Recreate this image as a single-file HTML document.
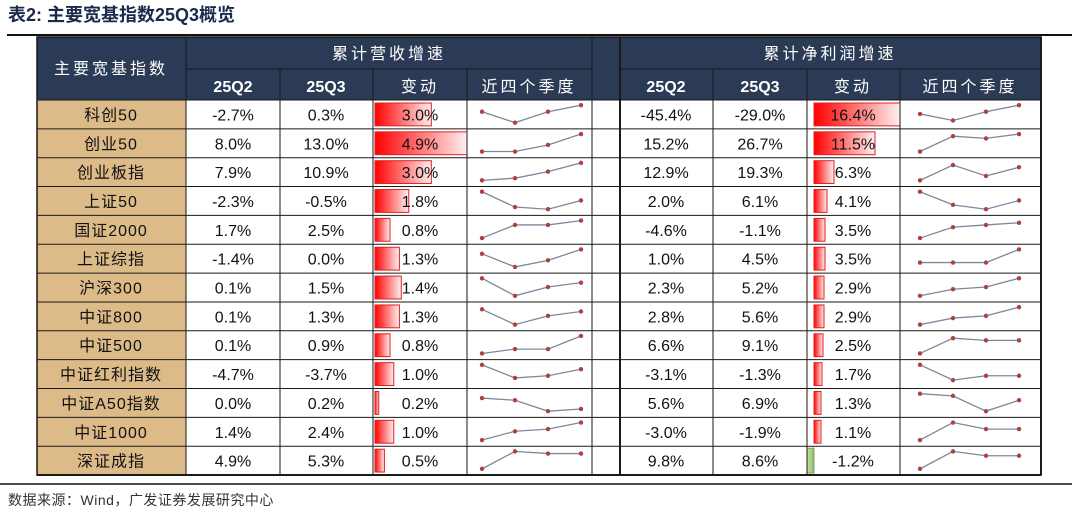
<!DOCTYPE html>
<html><head><meta charset="utf-8"><style>
body{margin:0;background:#fff;width:1080px;height:519px;overflow:hidden}
svg{display:block}
</style></head><body>
<svg id="s" width="1080" height="519" xmlns="http://www.w3.org/2000/svg" font-family="'Liberation Sans','Noto Sans CJK SC',sans-serif">
<defs>
<linearGradient id="rg" x1="0" x2="1" y1="0" y2="0"><stop offset="0" stop-color="#ff0000"/><stop offset="1" stop-color="#fff0f0"/></linearGradient>
<linearGradient id="gg" x1="0" x2="1"><stop offset="0" stop-color="#c8e0a8"/><stop offset="1" stop-color="#8cc060"/></linearGradient>
</defs>
</svg>
<script>
const s=document.getElementById('s');let h='';
h+=`<text x="8" y="21" font-size="18" font-weight="bold" fill="#1a2a4a">表2:  主要宽基指数25Q3概览</text>`;
h+=`<line x1="7" y1="35" x2="1072" y2="35" stroke="#111" stroke-width="2"/>`;
const T=37,HM=69,HB=100,RH=28.85;
const L=[37,186,280,373,467,592,620,713,807,900,1041];
h+=`<rect x="37" y="${T}" width="${1041-37}" height="${HB-T}" fill="#2b3a55"/>`;
h+=`<g stroke="#1a1a1a" stroke-width="1">`;
h+=`<line x1="186" y1="${HM}" x2="592" y2="${HM}"/><line x1="620" y1="${HM}" x2="1041" y2="${HM}"/>`;
[186,592,620].forEach(x=>h+=`<line x1="${x}" y1="${T}" x2="${x}" y2="${HB}"/>`);
[280,373,467,713,807,900].forEach(x=>h+=`<line x1="${x}" y1="${HM}" x2="${x}" y2="${HB}"/>`);
h+=`</g>`;
const wt=(x,y,t,sz,b)=>h+=`<text x="${x}" y="${y}" font-size="${sz}" fill="#fff" text-anchor="middle" ${b?'font-weight="bold"':''} letter-spacing="${b?0:3}">${t}</text>`;
wt(111,74,'主要宽基指数',16);wt(389,59,'累计营收增速',16);wt(830,59,'累计净利润增速',16);
wt(233,92,'25Q2',16,1);wt(326,92,'25Q3',16,1);wt(420,92,'变动',16);wt(529,92,'近四个季度',16);
wt(666,92,'25Q2',16,1);wt(760,92,'25Q3',16,1);wt(853,92,'变动',16);wt(970,92,'近四个季度',16);
const names=['科创50','创业50','创业板指','上证50','国证2000','上证综指','沪深300','中证800','中证500','中证红利指数','中证A50指数','中证1000','深证成指'];
const d=[
['-2.7%','0.3%',3.0,'-45.4%','-29.0%',16.4],['8.0%','13.0%',4.9,'15.2%','26.7%',11.5],['7.9%','10.9%',3.0,'12.9%','19.3%',6.3],
['-2.3%','-0.5%',1.8,'2.0%','6.1%',4.1],['1.7%','2.5%',0.8,'-4.6%','-1.1%',3.5],['-1.4%','0.0%',1.3,'1.0%','4.5%',3.5],
['0.1%','1.5%',1.4,'2.3%','5.2%',2.9],['0.1%','1.3%',1.3,'2.8%','5.6%',2.9],['0.1%','0.9%',0.8,'6.6%','9.1%',2.5],
['-4.7%','-3.7%',1.0,'-3.1%','-1.3%',1.7],['0.0%','0.2%',0.2,'5.6%','6.9%',1.3],['1.4%','2.4%',1.0,'-3.0%','-1.9%',1.1],['4.9%','5.3%',0.5,'9.8%','8.6%',-1.2]];
const rw=[86,61,20,13,11,11,10,10,9,8,7,7,0];
const sl=[[.4,.9,.4,.1],[.9,.9,.6,.1],[.9,.8,.5,.1],[.1,.8,.9,.5],[.9,.3,.3,.1],[.3,.9,.6,.1],[.1,.9,.5,.3],[.2,.9,.5,.3],[.9,.7,.7,.1],[.1,.7,.6,.3],[.3,.4,.9,.8],[.9,.5,.4,.1],[.9,.1,.2,.2]];
const sr=[[.5,.8,.4,.1],[.9,.2,.3,.1],[.9,.2,.7,.3],[.1,.7,.9,.5],[.9,.4,.3,.2],[.7,.7,.7,.1],[.9,.6,.5,.1],[.9,.6,.5,.1],[.9,.2,.3,.3],[.1,.8,.6,.6],[.1,.2,.9,.4],[.9,.1,.4,.4],[.9,.1,.3,.3]];
const tx=(x,y,t)=>h+=`<text x="${x}" y="${y}" font-size="16" fill="#111" text-anchor="middle">${t}</text>`;
const spark=(x0,y0,v)=>{const xs=[0,1,2,3].map(i=>x0+i*33);const ys=v.map(a=>y0+3+a*(RH-7));
h+=`<polyline points="${xs.map((x,i)=>x+','+ys[i]).join(' ')}" fill="none" stroke="#7d889c" stroke-width="1.3"/>`;
xs.forEach((x,i)=>h+=`<circle cx="${x}" cy="${ys[i]}" r="2.2" fill="#b04040"/>`);};
names.forEach((n,i)=>{const y=HB+i*RH,cy=y+RH/2+6,r=d[i];
h+=`<rect x="37" y="${y}" width="149" height="${RH}" fill="#dcbb88"/>`;
h+=`<text x="111" y="${cy}" font-size="16" fill="#111" text-anchor="middle" letter-spacing="1">${n}</text>`;
tx(233,cy,r[0]);tx(326,cy,r[1]);
const w1=r[2]/4.9*92;h+=`<rect x="375" y="${y+3}" width="${w1}" height="${RH-6}" fill="url(#rg)" stroke="#e02020" stroke-width="1"/>`;
tx(420,cy,r[2].toFixed(1)+'%');
tx(666,cy,r[3]);tx(760,cy,r[4]);
if(r[5]>0){h+=`<rect x="814" y="${y+3}" width="${rw[i]}" height="${RH-6}" fill="url(#rg)" stroke="#e02020" stroke-width="1"/>`;}
else{h+=`<rect x="807" y="${y+2}" width="7" height="${RH-4}" fill="url(#gg)" stroke="#7aa850" stroke-width="1"/><line x1="814" y1="${y}" x2="814" y2="${y+RH}" stroke="#888" stroke-dasharray="1,1"/>`;}
tx(853,cy,r[5].toFixed(1)+'%');
spark(482,y,sl[i]);spark(920,y,sr[i]);
h+=`<line x1="37" y1="${y}" x2="1041" y2="${y}" stroke="#1a1a1a" stroke-width="1"/>`;
});
const B=HB+13*RH;
h+=`<g stroke="#1a1a1a" stroke-width="1">`;
L.forEach(x=>h+=`<line x1="${x}" y1="${HB}" x2="${x}" y2="${B}"/>`);
h+=`<line x1="37" y1="${B}" x2="1041" y2="${B}" stroke-width="2"/>`;
h+=`<rect x="37" y="${T}" width="1004" height="${B-T}" fill="none" stroke-width="1.5"/>`;
h+=`<line x1="620" y1="${T}" x2="620" y2="${B}" stroke-width="2"/><line x1="1041" y1="${T}" x2="1041" y2="${B}" stroke-width="2"/>`;
h+=`</g>`;
h+=`<line x1="0" y1="484" x2="1072" y2="484" stroke="#111" stroke-width="1.5"/>`;
h+=`<text x="8" y="505" font-size="14" fill="#333" letter-spacing="0.5">数据来源：Wind，广发证券发展研究中心</text>`;
s.innerHTML+=h;
</script>
</body></html>
